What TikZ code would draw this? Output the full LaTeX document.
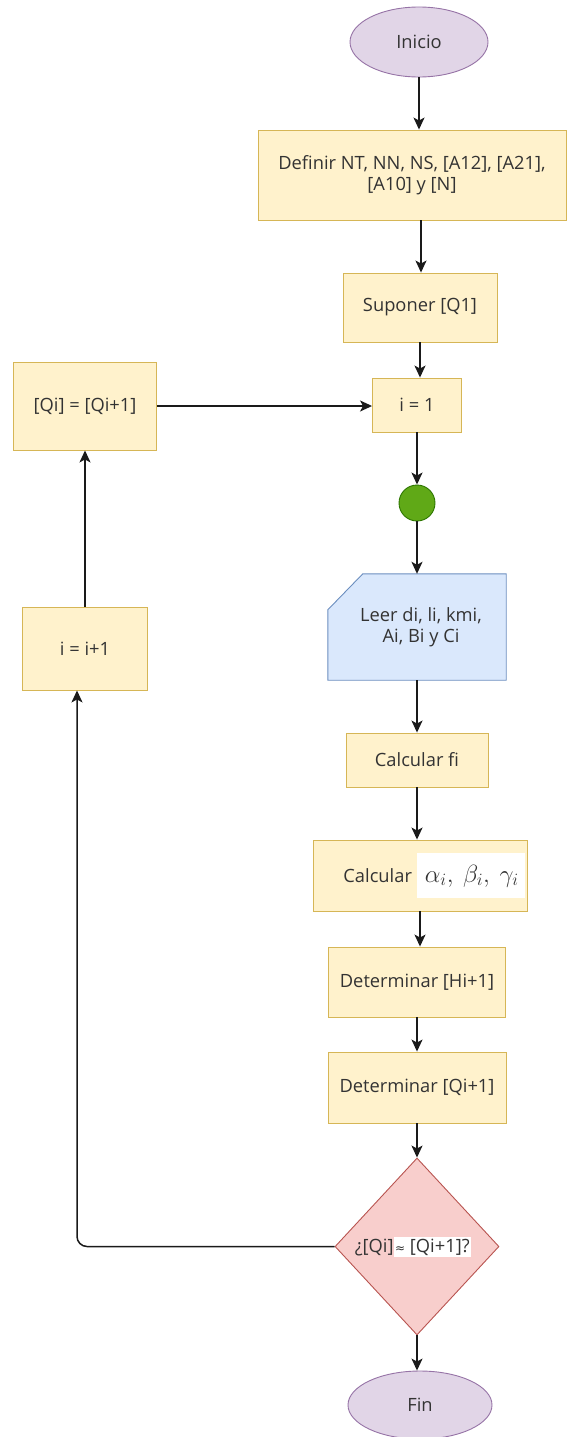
\documentclass[tikz,border=0pt]{standalone}
\usepackage{fontspec}
\setmainfont{Open Sans}
\newfontfamily\symfont{DejaVu Sans}
\usetikzlibrary{shapes.geometric,arrows.meta,backgrounds}

\definecolor{txt}{HTML}{333333}
\definecolor{procfill}{HTML}{FFF2CC}
\definecolor{procline}{HTML}{D6B656}
\definecolor{termfill}{HTML}{E1D5E7}
\definecolor{termline}{HTML}{9673A6}
\definecolor{iofill}{HTML}{DAE8FC}
\definecolor{ioline}{HTML}{6C8EBF}
\definecolor{decfill}{HTML}{F8CECC}
\definecolor{decline}{HTML}{B85450}
\definecolor{dotfill}{HTML}{60A917}
\definecolor{dotline}{HTML}{2D7600}
\definecolor{wire}{HTML}{1A1A1A}

\tikzset{
  x=1pt, y=1pt,
  every node/.style={font=\fontsize{18.3}{22}\selectfont, text=txt, inner sep=0pt},
  proc/.style={rectangle, draw=procline, fill=procfill, line width=0.9pt,
    minimum width=#1, align=center},
  term/.style={ellipse, draw=termline, fill=termfill, line width=0.9pt},
  dec/.style={diamond, draw=decline, fill=decfill, line width=0.9pt},
  flow/.style={draw=wire, line width=1.5pt,
    -{Stealth[length=12pt,width=11pt,inset=3pt]}},
}

\begin{document}
\begin{tikzpicture}
\useasboundingbox (0,0) rectangle (567,-1437);

% main column
\node[term, minimum width=138, minimum height=70] (inicio) at (419,-42) {Inicio};
\node[proc=308, minimum height=90] (definir) at (412,-175)
  {Definir NT, NN, NS, [A12], [A21],\\[-1pt] [A10] y [N]};
\node[proc=154, minimum height=69] (suponer) at (420,-307.5) {Suponer [Q1]};
\node[proc=89, minimum height=54] (ione) at (417,-405) {i = 1};
\node[circle, draw=dotline, fill=dotfill, line width=0.9pt, minimum size=36] (dot) at (417,-503) {};
\node[rectangle, minimum width=178, minimum height=106, align=center] (leer) at (417,-627)
  {\hspace*{8pt}Leer di, li, kmi,\\[-1pt]\hspace*{8pt}Ai, Bi y Ci};
\node[proc=214, minimum height=71] (calcab) at (420,-875.5)
  {\hspace*{28pt}Calcular\hspace{5pt}\setlength{\fboxsep}{0pt}\colorbox{white}{\rule[-16pt]{0pt}{45pt}\hspace{8pt}\fontsize{23}{26}\selectfont$\alpha_i,\:\beta_i,\:\gamma_i$\hspace{6pt}}};
\node[proc=142, minimum height=54] (calcfi) at (417,-760) {Calcular fi};
\node[proc=177, minimum height=70] (dethi) at (417,-982) {Determinar [Hi+1]};
\node[proc=178, minimum height=71] (detqi) at (417,-1087.5) {Determinar [Qi+1]};
\node[dec, minimum width=164, minimum height=177, aspect=0.93] (decide) at (417,-1246.5) {};
\node at (413,-1247) {¿[Qi]\setlength{\fboxsep}{1.5pt}\colorbox{white}{{\symfont\fontsize{12}{14}\selectfont ≈} [Qi+1]?}};
\node[term, minimum width=144, minimum height=68] (fin) at (420,-1405) {Fin};

% left column
\node[proc=143, minimum height=88] (qi) at (85,-406) {[Qi] = [Qi+1]};
\node[proc=125, minimum height=83] (iinc) at (85,-648.5) {i = i+1};

% card outline of the input block
\begin{scope}[on background layer]
  \draw[draw=ioline, fill=iofill, line width=0.9pt]
    ([xshift=35]leer.north west) -- (leer.north east) -- (leer.south east)
    -- (leer.south west) -- ([yshift=-36]leer.north west) -- cycle;
\end{scope}

% connectors
\draw[flow] (inicio.south) -- (inicio.south |- definir.north);
\draw[flow] ([xshift=9]definir.south) -- ([xshift=9]definir.south |- suponer.north);
\draw[flow] (suponer.south) -- (suponer.south |- ione.north);
\draw[flow] (ione.south) -- (ione.south |- dot.north);
\draw[flow] (dot.south) -- (dot.south |- leer.north);
\draw[flow] (leer.south) -- (calcfi.north);
\draw[flow] (calcfi.south) -- (calcfi.south |- calcab.north);
\draw[flow] (calcab.south) -- (calcab.south |- dethi.north);
\draw[flow] (dethi.south) -- (dethi.south |- detqi.north);
\draw[flow] (detqi.south) -- (decide.north);
\draw[flow] (decide.south) -- (decide.south |- fin.north);
\draw[flow, rounded corners=10] (decide.west) -| ([xshift=-8]iinc.south);
\draw[flow] (iinc.north) -- (qi.south);
\draw[flow] (qi.east) -- (qi.east -| ione.west);
\end{tikzpicture}
\end{document}
